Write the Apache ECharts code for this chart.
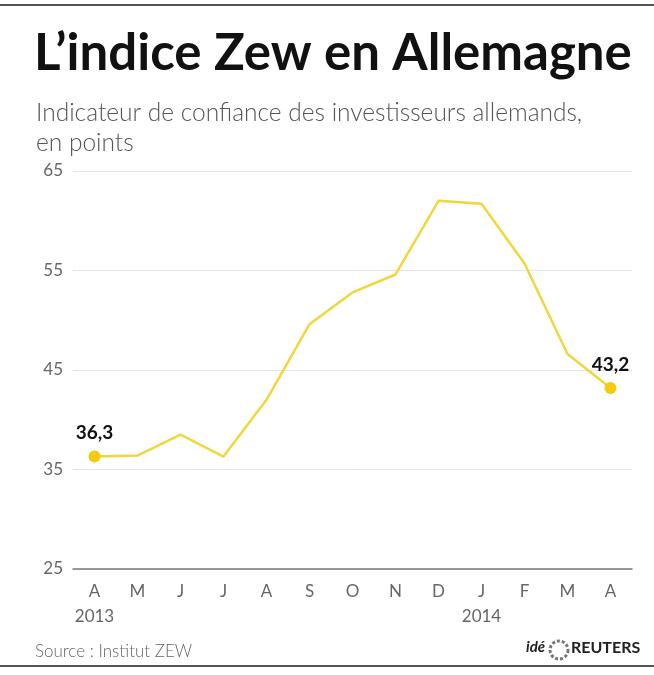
<!DOCTYPE html>
<html>
<head>
<meta charset="utf-8">
<title>L'indice Zew en Allemagne</title>
<script src="https://cdn.jsdelivr.net/npm/echarts@6/dist/echarts.min.js"></script>
<style>
  html, body { margin: 0; padding: 0; background: #fff; }
  #chart { width: 654px; height: 675px; }
</style>
</head>
<body>
<div id="chart"></div>
<script>
// mois avril 2013 -> avril 2014
var months = ['A', 'M', 'J', 'J', 'A', 'S', 'O', 'N', 'D', 'J', 'F', 'M', 'A']
var years = ['2013', '', '', '', '', '', '', '', '', '2014', '', '', '']
var zewValues = [36.3, 36.4, 38.5, 36.3, 42.0, 49.6, 52.8, 54.6, 62.0, 61.7, 55.7, 46.6, 43.2]
var yTicks = [25, 35, 45, 55, 65]

var FONT = 'Lato, "Open Sans", sans-serif'
var lineColor = '#f0d73c'
var dotColor = '#f4cb10'

var myChart = echarts.init(document.getElementById('chart'))

var lastIdx = zewValues.length - 1
var seriesData = zewValues.map(function (v, i) {
  var isEnd = i === 0 || i === lastIdx
  return {
    value: v,
    symbol: isEnd ? 'circle' : 'none',
    symbolSize: 12,
    label: {
      show: isEnd,
      position: 'top',
      distance: 8,
      formatter: function (p) { return String(p.value).replace('.', ',') },
      fontFamily: FONT,
      fontWeight: 'bold',
      fontSize: 19,
      color: '#111'
    }
  }
})

var option = {
  animation: false,
  title: [
    {
      text: 'L\u2019indice Zew en Allemagne',
      left: 29,
      top: 23,
      textStyle: { fontFamily: FONT, fontWeight: 'bold', fontSize: 51, color: '#111' }
    },
    {
      text: 'Indicateur de confiance des investisseurs allemands,\nen points',
      left: 31,
      top: 93,
      textStyle: { fontFamily: FONT, fontWeight: 300, fontSize: 24.5, lineHeight: 30, color: '#555' }
    },
    {
      text: 'Source : Institut ZEW',
      left: 30,
      top: 638,
      textStyle: { fontFamily: FONT, fontWeight: 300, fontSize: 17, color: '#666' }
    }
  ],
  graphic: [
    { type: 'line', shape: { x1: 0, y1: 5, x2: 654, y2: 5 }, style: { stroke: '#555', lineWidth: 2 } },
    { type: 'line', shape: { x1: 0, y1: 666, x2: 654, y2: 666 }, style: { stroke: '#555', lineWidth: 2 } },
    {
      type: 'text', left: 526, top: 640,
      style: { text: 'idé', font: 'italic bold 15px ' + FONT, fill: '#222' }
    },
    {
      type: 'circle', shape: { cx: 559, cy: 650, r: 9 },
      style: { fill: '#fff', stroke: '#777', lineWidth: 3, lineDash: [3, 2] }
    },
    {
      type: 'text', left: 571, top: 640,
      style: { text: 'REUTERS', font: 'bold 16px ' + FONT, fill: '#222' }
    }
  ],
  grid: {
    left: 73,
    right: 22,
    top: 171,
    bottom: 106
  },
  xAxis: {
    type: 'category',
    data: months,
    boundaryGap: true,
    axisLine: { lineStyle: { color: '#777', width: 1.5 } },
    axisTick: { inside: true, length: 8, lineStyle: { color: '#999' } },
    axisLabel: {
      interval: 0,
      margin: 10,
      fontFamily: FONT,
      fontSize: 17,
      lineHeight: 25,
      color: '#666',
      formatter: function (val, idx) {
        return years[idx] ? val + '\n' + years[idx] : val
      }
    },
    splitLine: { show: false }
  },
  yAxis: {
    type: 'value',
    min: yTicks[0],
    max: yTicks[yTicks.length - 1],
    interval: 10,
    axisLine: { show: false },
    axisTick: { show: false },
    axisLabel: { margin: 10, fontFamily: FONT, fontSize: 17, color: '#666' },
    splitLine: { lineStyle: { color: '#e4e4e4', width: 1 } }
  },
  series: [
    {
      type: 'line',
      data: seriesData,
      lineStyle: { color: lineColor, width: 2.5 },
      itemStyle: { color: dotColor },
      z: 3
    }
  ]
}

option && myChart.setOption(option)
</script>
</body>
</html>
